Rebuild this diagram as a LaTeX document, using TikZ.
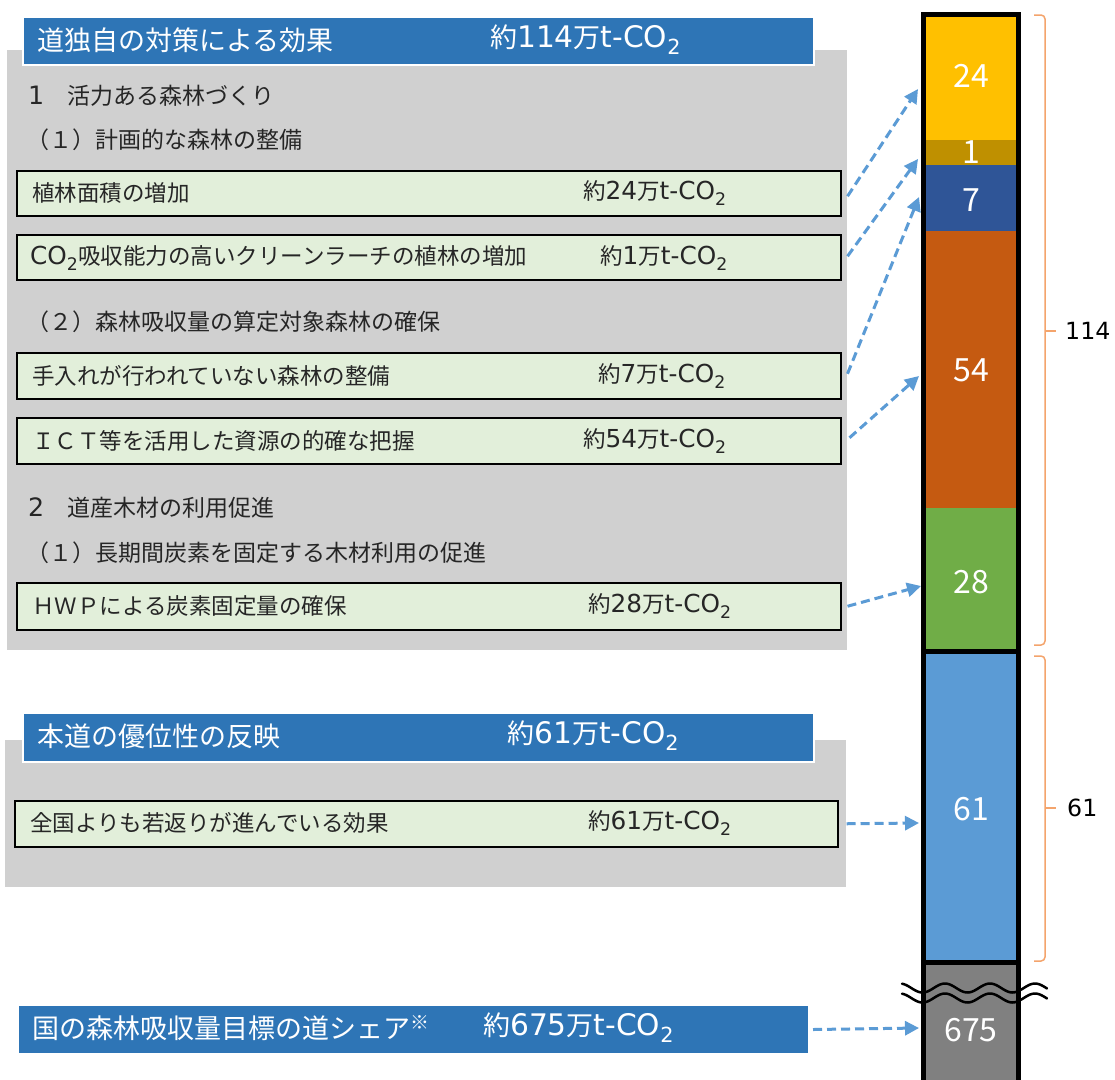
\documentclass[tikz,border=0pt]{standalone}
\usepackage{fontspec}
\setmainfont{Noto Sans CJK JP}
\newfontfamily\lat[Scale=1.1]{DejaVu Sans}
\usetikzlibrary{arrows.meta}
\definecolor{hdrblue}{HTML}{2E75B6}
\definecolor{panelgray}{HTML}{D0D0D0}
\definecolor{boxgreen}{HTML}{E2EFDA}
\definecolor{barY}{HTML}{FFC000}
\definecolor{barO}{HTML}{BF9000}
\definecolor{barDB}{HTML}{2F5597}
\definecolor{barOr}{HTML}{C55A11}
\definecolor{barG}{HTML}{70AD47}
\definecolor{barLB}{HTML}{5B9BD5}
\definecolor{barGr}{HTML}{808080}
\definecolor{arrblue}{HTML}{5B9BD5}
\definecolor{brk}{HTML}{F4A46C}
\newcommand{\tco}{{\lat t-CO\textsubscript{2}}}
\newcommand{\amount}[1]{約{\lat #1}万\tco}
\begin{document}
\begin{tikzpicture}[x=1pt,y=-1pt,
 panel/.style={fill=panelgray, draw=none},
 hdr/.style={fill=hdrblue, draw=white, line width=2pt, anchor=north west, inner sep=0},
 itembox/.style={fill=boxgreen, draw=black, line width=1.5pt, anchor=north west, inner sep=0},
 hdrtxt/.style={anchor=west, text=white, font=\fontsize{27}{30}\selectfont, inner sep=0},
 sectxt/.style={anchor=west, text=black!85, font=\fontsize{23}{26}\selectfont, inner sep=0},
 itemtxt/.style={anchor=west, text=black!85, font=\fontsize{22.5}{26}\selectfont, inner sep=0},
 barnum/.style={text=white, font=\fontsize{32}{36}\selectfont, inner sep=0},
 sidenum/.style={anchor=west, text=black, font=\fontsize{21.5}{26}\selectfont\lat, inner sep=0},
 arr/.style={draw=arrblue, line width=3pt, dash pattern=on 9pt off 5pt, -{Triangle[length=14pt,width=14pt]}},
 brace/.style={draw=brk, line width=1.5pt, rounded corners=4pt},
 wave/.style={draw=black, line width=2.5pt, line cap=round},
 ]
\clip (0,0) rectangle (1115,1079);
\fill[white] (0,0) rectangle (1115,1079);

% ---------- panel 1 ----------
\fill[panel] (7,50) rectangle (847,650);
\node[hdr, minimum width=791pt, minimum height=48pt] (h1) at (22,16) {};
\node[hdrtxt] (h1a) at (37,40) {道独自の対策による効果};
\node[hdrtxt] (h1b) at (490,40) {\amount{114}};

\node[sectxt] (s1) at (28,96) {{\lat 1}　活力ある森林づくり};
\node[sectxt] (s11) at (26,140) {（１）計画的な森林の整備};

\node[itembox, minimum width=824pt, minimum height=45pt] (b1) at (16,170) {};
\node[itemtxt] (b1a) at (32,193) {植林面積の増加};
\node[itemtxt] (b1b) at (583,193) {\amount{24}};

\node[itembox, minimum width=824pt, minimum height=45pt] (b2) at (16,234) {};
\node[itemtxt] (b2a) at (30,258) {{\lat CO\textsubscript{2}}吸収能力の高いクリーンラーチの植林の増加};
\node[itemtxt] (b2b) at (600,258) {\amount{1}};

\node[sectxt] (s12) at (26,322) {（２）森林吸収量の算定対象森林の確保};

\node[itembox, minimum width=824pt, minimum height=46pt] (b3) at (16,352) {};
\node[itemtxt] (b3a) at (32,376) {手入れが行われていない森林の整備};
\node[itemtxt] (b3b) at (598,376) {\amount{7}};

\node[itembox, minimum width=824pt, minimum height=46pt] (b4) at (16,417) {};
\node[itemtxt] (b4a) at (32,441) {ＩＣＴ等を活用した資源の的確な把握};
\node[itemtxt] (b4b) at (583,441) {\amount{54}};

\node[sectxt] (s2) at (28,508) {{\lat 2}　道産木材の利用促進};
\node[sectxt] (s21) at (26,553) {（１）長期間炭素を固定する木材利用の促進};

\node[itembox, minimum width=824pt, minimum height=47pt] (b5) at (16,582) {};
\node[itemtxt] (b5a) at (32,606) {ＨＷＰによる炭素固定量の確保};
\node[itemtxt] (b5b) at (588,606) {\amount{28}};

% ---------- panel 2 ----------
\fill[panel] (5,740) rectangle (846,887);
\node[hdr, minimum width=791pt, minimum height=49pt] (h2) at (22,712) {};
\node[hdrtxt] (h2a) at (37,736) {本道の優位性の反映};
\node[hdrtxt] (h2b) at (507,736) {\amount{61}};

\node[itembox, minimum width=823pt, minimum height=46pt] (b6) at (14,800) {};
\node[itemtxt] (b6a) at (30,823) {全国よりも若返りが進んでいる効果};
\node[itemtxt] (b6b) at (588,823) {\amount{61}};

% ---------- header 3 ----------
\node[hdr, draw=none, minimum width=789pt, minimum height=47pt] (h3) at (18,1005) {};
\node[hdrtxt] (h3a) at (32,1028) {国の森林吸収量目標の道シェア\textsuperscript{※}};
\node[hdrtxt] (h3b) at (483,1028) {\amount{675}};

% ---------- bar ----------
\fill[barY]  (923.5,14.5) rectangle (1018.5,140);
\fill[barO]  (923.5,140) rectangle (1018.5,165);
\fill[barDB] (923.5,165) rectangle (1018.5,231);
\fill[barOr] (923.5,231) rectangle (1018.5,508);
\fill[barG]  (923.5,508) rectangle (1018.5,651);
\fill[barLB] (923.5,651) rectangle (1018.5,962);
\fill[barGr] (923.5,962) rectangle (1018.5,1090);
\draw[line width=5pt] (923.5,651) -- (1018.5,651);
\draw[line width=5pt] (923.5,962) -- (1018.5,962);
\draw[line width=5pt, line join=miter] (923.5,1090) -- (923.5,14.5) -- (1018.5,14.5) -- (1018.5,1090);

\node[barnum] (n24) at (971,76) {24};
\node[barnum] (n1) at (971,152) {1};
\node[barnum] (n7) at (971,200) {7};
\node[barnum] (n54) at (971,370) {54};
\node[barnum] (n28) at (971,582) {28};
\node[barnum] (n61) at (971,809) {61};
\node[barnum] (n675) at (971,1030) {675};

% wavy break
\draw[wave, domain=902:1047, samples=80, smooth] plot (\x, {988 - 4.5*cos((\x-945)*8)});
\draw[wave, domain=902:1047, samples=80, smooth] plot (\x, {998 - 4.5*cos((\x-945)*8)});

% brackets
\draw[brace] (1034,15) -- (1045,15) -- (1045,645) -- (1034,645);
\draw[draw=brk, line width=2pt] (1045,331) -- (1056,331);
\draw[brace] (1034,656) -- (1045,656) -- (1045,961) -- (1034,961);
\draw[draw=brk, line width=2pt] (1045,808) -- (1056,808);
\node[sidenum] (l114) at (1065,331) {114};
\node[sidenum] (l61) at (1067,808) {61};

% arrow targets
\coordinate (t1) at (918,89);
\coordinate (t2) at (918,159);
\coordinate (t3) at (919,197);
\coordinate (t4) at (919,376);
\coordinate (t5) at (921,586);
\coordinate (t6) at (919,823);
\coordinate (t7) at (919,1028);

\draw[arr] ([shift={(6,3)}]b1.east) -- (t1);
\draw[arr] ([shift={(6,-1)}]b2.east) -- (t2);
\draw[arr] ([shift={(6,-2)}]b3.east) -- (t3);
\draw[arr] ([shift={(8,-3)}]b4.east) -- (t4);
\draw[arr] ([shift={(6,0)}]b5.east) -- (t5);
\draw[arr] ([shift={(8,0)}]b6.east) -- (t6);
\draw[arr] ([shift={(4,0)}]h3.east) -- (t7);
\end{tikzpicture}
\end{document}
